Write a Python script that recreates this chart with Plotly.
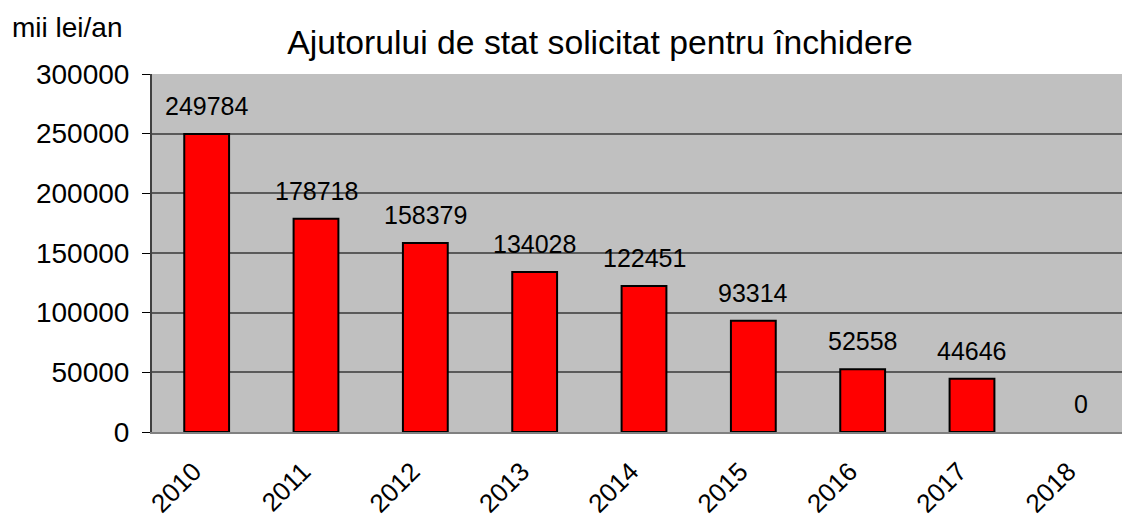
import plotly.graph_objects as go

years = ["2010", "2011", "2012", "2013", "2014", "2015", "2016", "2017", "2018"]
values = [249784, 178718, 158379, 134028, 122451, 93314, 52558, 44646, 0]
y_ticks = [0, 50000, 100000, 150000, 200000, 250000, 300000]

FONT = "Liberation Sans, Arial, sans-serif"

# The page body adds an 8px margin, so figure coordinates = reference - 8.
W, H = 1130, 523
L, R, T, B = 144, 2, 66, 99
PW, PH = W - L - R, H - T - B

fig = go.Figure()
fig.add_trace(go.Bar(
    x=years, y=values,
    marker=dict(color="#ff0000",
                line=dict(color="#000000", width=[2 if v else 0 for v in values])),
    width=0.41,
    hoverinfo="x+y",
))

for i, v in enumerate(values):
    fig.add_annotation(
        x=i, y=v, text=str(v), showarrow=False,
        xanchor="center", yanchor="middle", yshift=28,
        font=dict(family=FONT, size=25, color="#000000"),
    )

fig.add_annotation(
    xref="paper", yref="paper", x=(2 - L) / PW, y=1 + (T - 20) / PH,
    xanchor="left", yanchor="middle", text="mii lei/an", showarrow=False,
    font=dict(family=FONT, size=28, color="#000000"),
)

fig.update_layout(
    width=W, height=H,
    margin=dict(l=L, r=R, t=T, b=B),
    paper_bgcolor="#ffffff",
    plot_bgcolor="#c0c0c0",
    showlegend=False,
    title=dict(
        text="Ajutorului de stat solicitat pentru închidere",
        x=592 / W, xanchor="center", y=1 - 34 / H, yanchor="middle",
        font=dict(family=FONT, size=33.7, color="#000000"),
    ),
    xaxis=dict(
        type="category",
        range=[-0.5, 8.5],
        showgrid=False,
        showline=True, linecolor="#808080", linewidth=2,
        ticks="", tickangle=-45,
        tickfont=dict(family=FONT, size=26, color="#000000"),
        ticklabelstandoff=12,
        ticklabelshift=-13,
    ),
    yaxis=dict(
        range=[0, 300000],
        tickvals=y_ticks,
        ticktext=[str(t) for t in y_ticks],
        showgrid=True, gridcolor="#5a5a5a", gridwidth=1.5,
        showline=True, linecolor="#404040", linewidth=2,
        ticks="outside", ticklen=8, tickcolor="#000000", tickwidth=1,
        tickfont=dict(family=FONT, size=28, color="#000000"),
        ticklabelstandoff=7,
        zeroline=False,
    ),
)

fig.write_html("out.html")
